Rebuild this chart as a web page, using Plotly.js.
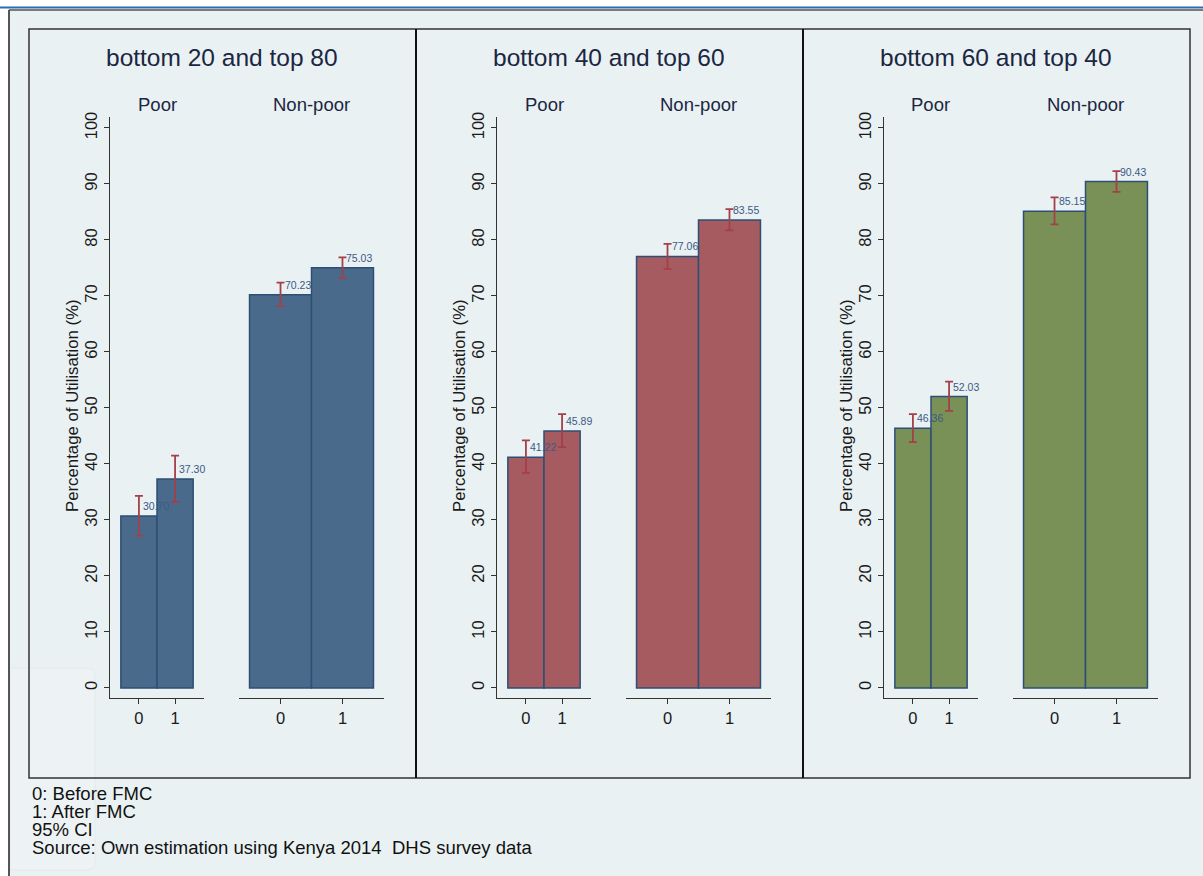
<!DOCTYPE html>
<html>
<head>
<meta charset="utf-8">
<script src="https://cdn.plot.ly/plotly-3.0.1.min.js"></script>
<style>
  html, body { margin: 0; padding: 0; background: #ffffff; }
  #chart { width: 1203px; height: 876px; }
</style>
</head>
<body>
<div id="chart"></div>
<script>
// ---- data ----
const panelTitles = ["bottom 20 and top 80", "bottom 40 and top 60", "bottom 60 and top 40"];
const groupNames = ["Poor", "Non-poor"];
const periods = [0, 1];
const periodLabels = ["0", "1"];

// utilisation (%) by panel, [before, after]
const poorPct    = [[30.70, 37.30], [41.22, 45.89], [46.36, 52.03]];
const nonPoorPct = [[70.23, 75.03], [77.06, 83.55], [85.15, 90.43]];

// 95% confidence limits
const poorLow     = [[27.2, 33.2], [38.4, 43.0], [43.9, 49.5]];
const poorHigh    = [[34.3, 41.5], [44.2, 48.9], [48.9, 54.7]];
const nonPoorLow  = [[68.2, 73.2], [74.8, 81.7], [82.8, 88.6]];
const nonPoorHigh = [[72.4, 76.9], [79.3, 85.5], [87.6, 92.3]];

const barColors = ["#4a6a8b", "#a55b5f", "#799157"];
const yTicks = [0, 10, 20, 30, 40, 50, 60, 70, 80, 90, 100];
const noteLines = ["0: Before FMC", "1: After FMC", "95% CI",
                   "Source: Own estimation using Kenya 2014 \u00a0DHS survey data"];

// ---- layout helpers (pixel -> paper) ----
const W = 1203, H = 876;
const fx = p => p / W;
const fy = p => 1 - p / H;
const PANEL_STEP = 387;
const FONT = "Liberation Sans, Arial, sans-serif";

const traces = [];
const annotations = [];
const layout = {
  width: W, height: H,
  margin: {l: 0, r: 0, t: 0, b: 0},
  paper_bgcolor: "#ffffff",
  plot_bgcolor: "#ffffff",
  showlegend: false,
  bargap: 0,
  font: {family: FONT, color: "#222222"},
  shapes: [],
  annotations: annotations
};

// graph region background and frame
layout.shapes.push(
  {type: "rect", xref: "paper", yref: "paper", x0: fx(8), x1: fx(1203), y0: fy(876), y1: fy(9),
   fillcolor: "#e9f1f3", line: {width: 0}, layer: "below"},
  {type: "path", xref: "paper", yref: "paper", layer: "below",
   path: `M ${fx(10)} ${fy(668)} L ${fx(86)} ${fy(668)} Q ${fx(95)} ${fy(668)} ${fx(95)} ${fy(677)} ` +
         `L ${fx(95)} ${fy(861)} Q ${fx(95)} ${fy(870)} ${fx(86)} ${fy(870)} L ${fx(10)} ${fy(870)} Z`,
   fillcolor: "#edf3f5", line: {color: "#e3eaec", width: 1}},
  {type: "line", xref: "paper", yref: "paper", x0: 0, x1: 1, y0: fy(7.5), y1: fy(7.5),
   line: {color: "#2b6cb0", width: 2}},
  {type: "line", xref: "paper", yref: "paper", x0: fx(9), x1: 1, y0: fy(10), y1: fy(10),
   line: {color: "#555555", width: 1.5}},
  {type: "line", xref: "paper", yref: "paper", x0: fx(9), x1: fx(9), y0: fy(10), y1: 0,
   line: {color: "#555555", width: 2}},
  {type: "rect", xref: "paper", yref: "paper", x0: fx(29), x1: fx(1190), y0: fy(778), y1: fy(29),
   line: {color: "#333333", width: 1.5}},
  {type: "line", xref: "paper", yref: "paper", x0: fx(416), x1: fx(416), y0: fy(778), y1: fy(29),
   line: {color: "#111111", width: 2}},
  {type: "line", xref: "paper", yref: "paper", x0: fx(803), x1: fx(803), y0: fy(778), y1: fy(29),
   line: {color: "#111111", width: 2}}
);

// plot area geometry for the two sub-panels (pixels, panel 1)
const sub = [
  {x0: 110, x1: 204, range: [-0.8, 1.8]},    // Poor
  {x0: 239, x1: 384, range: [-0.67, 1.67]}   // Non-poor
];
const plotTop = 117, plotBottom = 698;
const yRange = [-1.79, 101.96];

let axisIndex = 0;
for (let p = 0; p < panelTitles.length; p++) {
  const off = p * PANEL_STEP;

  annotations.push({
    text: panelTitles[p], xref: "paper", yref: "paper",
    x: fx(222 + off), y: fy(58), xanchor: "center", yanchor: "middle", showarrow: false,
    font: {size: 24.5, color: "#1b2642", family: FONT}
  });
  annotations.push({
    text: "Percentage of Utilisation (%)", xref: "paper", yref: "paper",
    x: fx(72 + off), y: fy(406), xanchor: "center", yanchor: "middle", showarrow: false,
    textangle: -90, font: {size: 16.8, color: "#1a1a1a", family: FONT}
  });

  for (let g = 0; g < 2; g++) {
    axisIndex++;
    const sfx = axisIndex === 1 ? "" : String(axisIndex);
    const xa = "x" + sfx, ya = "y" + sfx;
    const vals = g === 0 ? poorPct[p] : nonPoorPct[p];
    const lo = g === 0 ? poorLow[p] : nonPoorLow[p];
    const hi = g === 0 ? poorHigh[p] : nonPoorHigh[p];

    traces.push({
      type: "bar", x: periods, y: vals, width: 1,
      xaxis: xa, yaxis: ya,
      marker: {color: barColors[p], line: {color: "#2d4f75", width: 1.5}},
      error_y: {
        type: "data", symmetric: false,
        array: vals.map((v, i) => hi[i] - v),
        arrayminus: vals.map((v, i) => v - lo[i]),
        color: "#a3404a", thickness: 1.8, width: 4
      },
      hoverinfo: "skip"
    });

    vals.forEach((v, i) => {
      annotations.push({
        text: v.toFixed(2), xref: xa, yref: ya, x: periods[i], y: v,
        xanchor: "left", yanchor: "bottom", xshift: 2, yshift: 2, showarrow: false,
        font: {size: 10.5, color: "#3b5a85", family: FONT}
      });
    });

    const s = sub[g];
    layout["xaxis" + sfx] = {
      domain: [fx(s.x0 + off), fx(s.x1 + off)],
      anchor: ya, range: s.range, fixedrange: true,
      tickvals: periods, ticktext: periodLabels,
      showline: true, linecolor: "#333333", linewidth: 1.2,
      ticks: "outside", ticklen: 5, tickcolor: "#333333", tickwidth: 1,
      tickfont: {size: 16.5, color: "#1a1a1a", family: FONT},
      showgrid: false, zeroline: false
    };
    layout["yaxis" + sfx] = {
      domain: [fy(plotBottom), fy(plotTop)],
      anchor: xa, range: yRange, fixedrange: true,
      tickvals: yTicks, tickangle: -90,
      showline: g === 0, linecolor: "#333333", linewidth: 1.2,
      ticks: g === 0 ? "outside" : "", ticklen: 5, tickcolor: "#333333", tickwidth: 1,
      showticklabels: g === 0,
      tickfont: {size: 16.5, color: "#1a1a1a", family: FONT},
      showgrid: false, zeroline: false
    };

    annotations.push({
      text: groupNames[g], xref: "paper", yref: "paper",
      x: fx((s.x0 + s.x1) / 2 + off), y: fy(104), xanchor: "center", yanchor: "middle",
      showarrow: false, font: {size: 18.5, color: "#1b2642", family: FONT}
    });
  }
}

noteLines.forEach((t, i) => {
  annotations.push({
    text: t, xref: "paper", yref: "paper",
    x: fx(30), y: fy(793 + i * 18), xanchor: "left", yanchor: "middle", showarrow: false,
    font: {size: 18.5, color: "#111111", family: FONT}
  });
});

Plotly.newPlot("chart", traces, layout, {staticPlot: true, displayModeBar: false});
</script>
</body>
</html>
